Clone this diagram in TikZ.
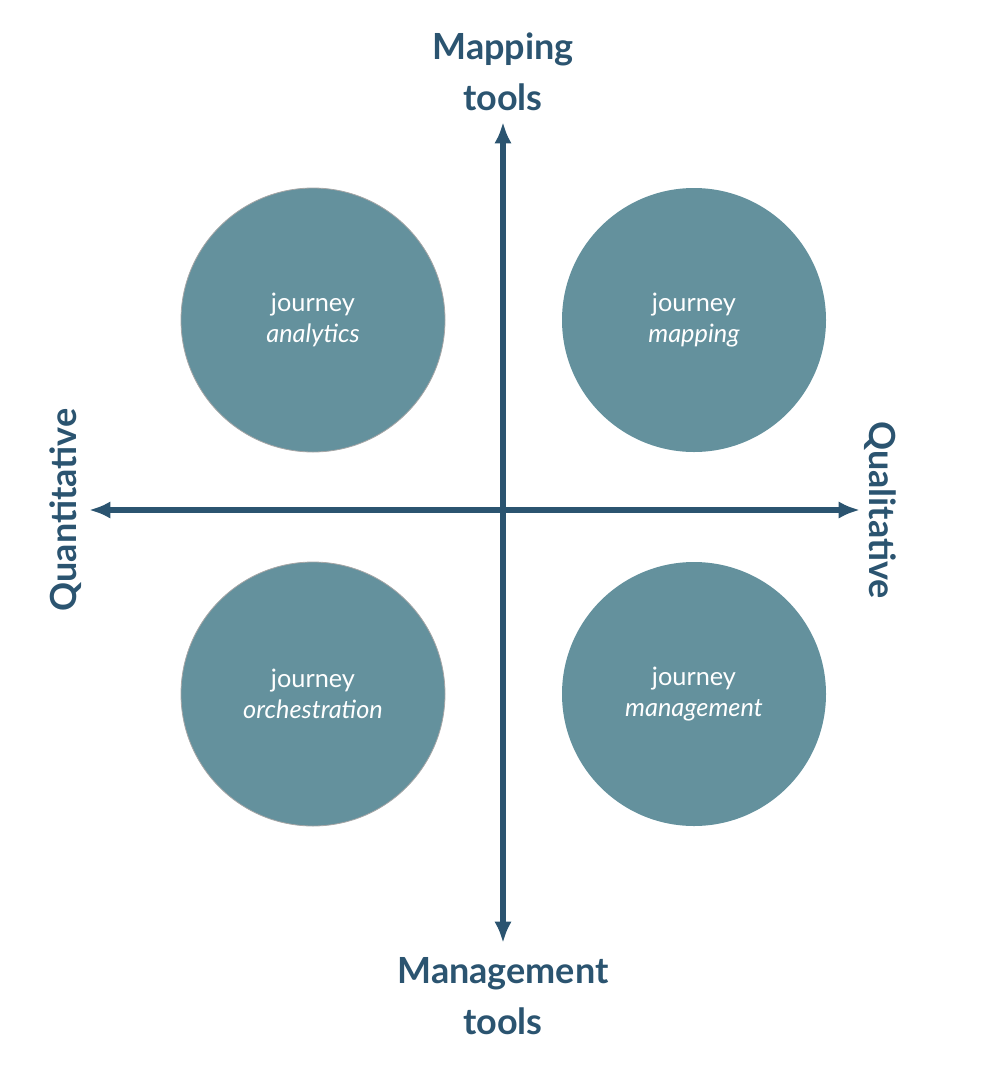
\documentclass[tikz,border=0pt]{standalone}
\usepackage{fontspec}
\setmainfont{Lato}
\usetikzlibrary{arrows.meta}
\definecolor{axisblue}{HTML}{2B5470}
\definecolor{bubble}{HTML}{64919D}
\begin{document}
\begin{tikzpicture}[x=0.75pt,y=-0.75pt,>={Latex[length=16pt,width=13pt]},semithick]
	\tikzset{axis/.style={<->,draw=axisblue,line width=3.8pt},
		bubble/.style={circle,fill=bubble,draw=gray!70,line width=0.6pt,minimum size=198pt,text=white,font=\fontsize{19}{23}\selectfont,align=center},
		label/.style={text=axisblue,font=\fontsize{27}{38}\selectfont\bfseries,align=center}}
	\useasboundingbox (0,0) rectangle (988,1086);
	
	\coordinate (top) at (503,122);
	\coordinate (bottom) at (503,943);
	\coordinate (left) at (89,510);
	\coordinate (right) at (860,510);
	
	\node[bubble] (analytics) at (313,320) {journey\\\textit{analytics}};
	\node[bubble,draw=none] (mapping) at (694,320) {journey\\\textit{mapping}};
	\node[bubble] (orchestration) at (313,694) {journey\\\textit{orchestration}};
	\node[bubble,draw=none] (management) at (694,694) {journey\\\textit{management}};
	
	\draw[axis] (top) -- (bottom);
	\draw[axis] (left) -- (right);
	
	\node[label] (maptools) at (503,72) {Mapping\\tools};
	\node[label] (mgmttools) at (503,996) {Management\\tools};
	\node[label,rotate=90] (quant) at (66,510) {Quantitative};
	\node[label,rotate=-90] (qual) at (880,510) {Qualitative};
\end{tikzpicture}
\end{document}
